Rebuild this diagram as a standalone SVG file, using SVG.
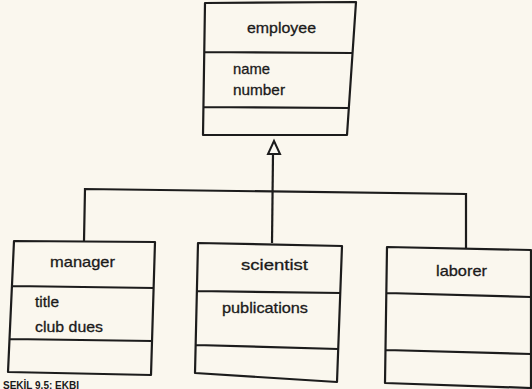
<svg xmlns="http://www.w3.org/2000/svg" width="532" height="389" viewBox="0 0 532 389">
  <defs>
    <style>
      .box { fill: none; stroke: #1c1c1c; stroke-width: 2.2; stroke-linejoin: round; }
      .line { fill: none; stroke: #1c1c1c; stroke-width: 2.2; }
      .head { fill: #fbf9f2; stroke: #1c1c1c; stroke-width: 2; stroke-linejoin: miter; }
      .lbl { font-family: "Liberation Sans", Arial, Helvetica, sans-serif; font-size: 15px; fill: #1a1a1a; stroke: #1a1a1a; stroke-width: 0.3; }
      .cap { font-family: "Liberation Sans", Arial, Helvetica, sans-serif; font-size: 10px; font-weight: bold; fill: #1a1a1a; }
    </style>
  </defs>

  <!-- paper -->
  <rect x="0" y="0" width="532" height="389" fill="#faf7ee"/>

  <!-- generalization connectors -->
  <g id="connectors">
    <polyline class="line" points="84,241 85,189 466,194 466,248"/>
    <line class="line" x1="272" y1="243" x2="273" y2="154"/>
    <polygon class="head" points="274,141 268,154 280,154"/>
  </g>

  <g id="employee">
    <path class="box" d="M205,3 L356,2 L347,135 L203,135 Z M204,52 L352,53 M203,107 L349,108"/>
    <text class="lbl" x="247" y="33" textLength="69" lengthAdjust="spacingAndGlyphs">employee</text>
    <text class="lbl" x="233" y="74" textLength="37" lengthAdjust="spacingAndGlyphs">name</text>
    <text class="lbl" x="233" y="95" textLength="52" lengthAdjust="spacingAndGlyphs">number</text>
  </g>

  <g id="manager">
    <path class="box" d="M14,241 L155,242 L151,375 L8,372 Z M12,286 L154,288 M10,339 L152,341"/>
    <text class="lbl" x="50" y="267" textLength="65" lengthAdjust="spacingAndGlyphs">manager</text>
    <text class="lbl" x="35" y="307" textLength="24" lengthAdjust="spacingAndGlyphs">title</text>
    <text class="lbl" x="35" y="332" textLength="68" lengthAdjust="spacingAndGlyphs">club dues</text>
  </g>

  <g id="scientist">
    <path class="box" d="M198,243 L342,246 L337,382 L195,373 Z M197,291 L341,293 M196,345 L338,349"/>
    <text class="lbl" x="241" y="270" textLength="67" lengthAdjust="spacingAndGlyphs">scientist</text>
    <text class="lbl" x="222" y="313" textLength="86" lengthAdjust="spacingAndGlyphs">publications</text>
  </g>

  <g id="laborer">
    <path class="box" d="M387,247 L531,250 L531,388 L385,383 Z M387,293 L531,297 M386,350 L531,354"/>
    <text class="lbl" x="436" y="276" textLength="51" lengthAdjust="spacingAndGlyphs">laborer</text>
  </g>

  <!-- figure caption along the bottom edge -->
  <text class="cap" x="3" y="388.5">SEKİL 9.5: EKBI</text>
</svg>
